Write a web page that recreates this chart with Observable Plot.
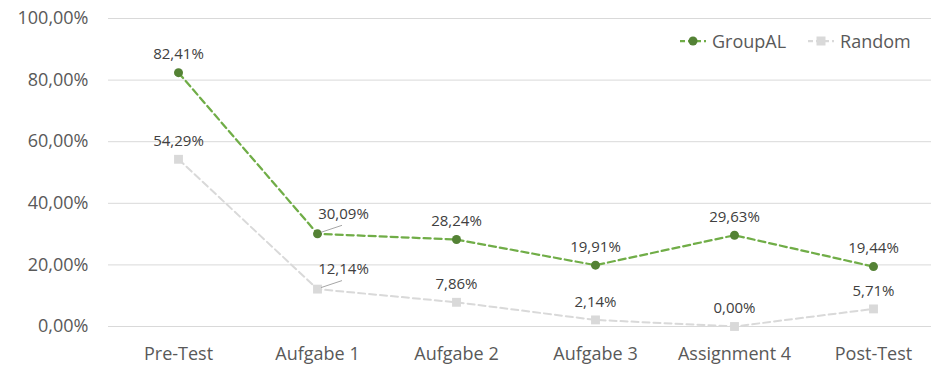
<!DOCTYPE html>
<html><head><meta charset="utf-8">
<script src="https://cdn.jsdelivr.net/npm/d3@7"></script>
<script src="https://cdn.jsdelivr.net/npm/@observablehq/plot@0.6"></script>
<style>
body{margin:0;background:#fff;font-family:"Open Sans",sans-serif}
#wrap{position:relative;width:931px;height:367px}
#legend{position:absolute;top:29px;left:680px;display:flex;align-items:center;font-size:18px;color:#595959;white-space:nowrap}
#legend .item{display:flex;align-items:center;margin-right:22px}
#legend svg{margin-right:6px}
</style>
</head><body><div id="wrap"></div>
<script>
const categories = ["Pre-Test","Aufgabe 1","Aufgabe 2","Aufgabe 3","Assignment 4","Post-Test"];
const groupAL = [82.41,30.09,28.24,19.91,29.63,19.44];
const random = [54.29,12.14,7.86,2.14,0.00,5.71];
const yTicks = [0,20,40,60,80,100];
const seriesNames = ["GroupAL","Random"];

const colors = {GroupAL:{line:"#70AD47",mark:"#548235"}, Random:{line:"#D9D9D9",mark:"#D9D9D9"}};
const fmt = v => v.toFixed(2).replace(".", ",") + "%";
const rows = [];
categories.forEach((c,i)=>{
  rows.push({cat:c, i, series:"GroupAL", v:groupAL[i]});
  rows.push({cat:c, i, series:"Random", v:random[i]});
});
const gA = rows.filter(d=>d.series==="GroupAL");
const rA = rows.filter(d=>d.series==="Random");
const labelStyle = {fontSize:15, fill:"#404040", fontFamily:"Open Sans"};

const chart = Plot.plot({
  width:931, height:367,
  marginLeft:108, marginRight:0, marginTop:18, marginBottom:41,
  style:{fontFamily:"Open Sans", background:"#fff"},
  x:{type:"point", domain:categories, range:[178,873], padding:0, label:null},
  y:{domain:[0,100], label:null},
  marks:[
    Plot.ruleY(yTicks, {stroke:"#D9D9D9", strokeWidth:1}),
    Plot.axisY({ticks:yTicks, tickSize:0, tickPadding:20, tickFormat:fmt, fontSize:18, fill:"#595959", label:null}),
    Plot.axisX({tickSize:0, tickPadding:21, fontSize:18, fill:"#595959", label:null}),
    Plot.line(rA, {x:"cat", y:"v", stroke:colors.Random.line, strokeWidth:2, strokeDasharray:"7,4"}),
    Plot.dot(rA, {x:"cat", y:"v", symbol:"square", r:5, fill:colors.Random.mark, stroke:"none"}),
    Plot.line(gA, {x:"cat", y:"v", stroke:colors.GroupAL.line, strokeWidth:2.25, strokeDasharray:"7,4"}),
    Plot.dot(gA, {x:"cat", y:"v", r:4.5, fill:colors.GroupAL.mark, stroke:"none"}),
    Plot.text(rows.filter(d=>d.i!==1), {x:"cat", y:"v", text:d=>fmt(d.v), dy:-18, ...labelStyle}),
    Plot.text(rows.filter(d=>d.i===1), {x:"cat", y:"v", text:d=>fmt(d.v), dx:26, dy:-20, ...labelStyle})
  ]
});

// leader lines for offset labels, positioned via the plot's scales
const xs = chart.scale("x"), ys = chart.scale("y");
const svg = d3.select(chart.tagName==="svg" ? chart : chart.querySelector("svg"));
rows.filter(d=>d.i===1).forEach(d=>{
  const px = xs.apply(d.cat), py = ys.apply(d.v);
  svg.append("line").attr("x1",px+4).attr("y1",py-1).attr("x2",px+25).attr("y2",py-8)
    .attr("stroke","#A6A6A6").attr("stroke-width",1);
});

const wrap = document.getElementById("wrap");
wrap.appendChild(chart);
const legend = document.createElement("div");
legend.id = "legend";
seriesNames.forEach(n=>{
  const it = document.createElement("div"); it.className="item";
  const c = colors[n];
  const sym = n==="GroupAL"
    ? `<circle cx="13" cy="6" r="4.5" fill="${c.mark}"/>`
    : `<rect x="8.5" y="1.5" width="9" height="9" fill="${c.mark}"/>`;
  it.innerHTML = `<svg width="26" height="12"><line x1="0" x2="26" y1="6" y2="6" stroke="${c.line}" stroke-width="2.25" stroke-dasharray="5,3"/>${sym}</svg><span>${n}</span>`;
  legend.appendChild(it);
});
wrap.appendChild(legend);
</script>
</body></html>
